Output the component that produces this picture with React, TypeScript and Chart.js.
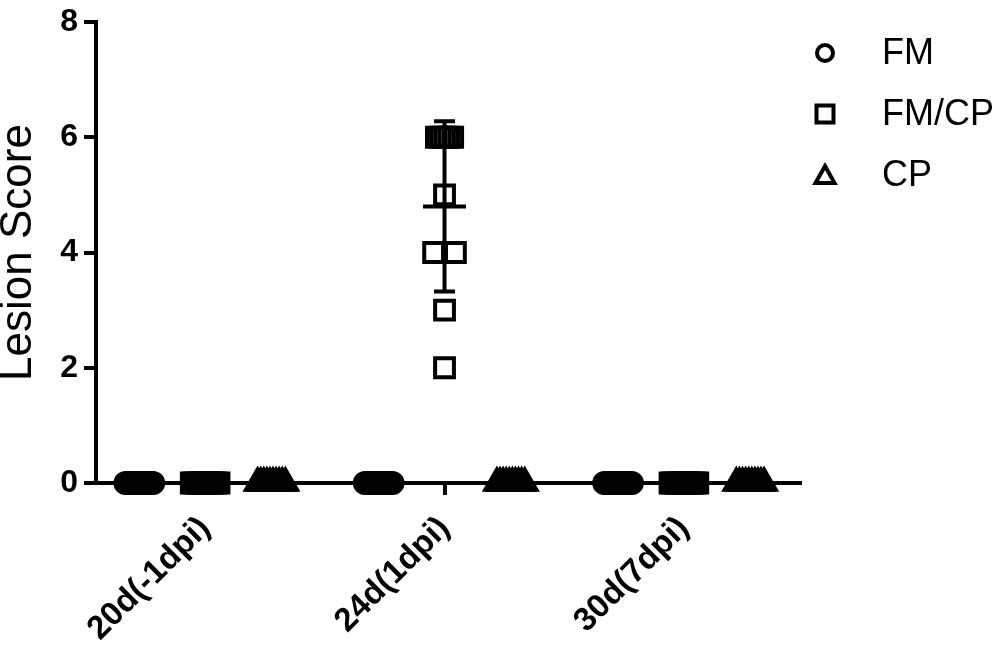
import React, { useEffect, useRef } from "react";
import { Chart, registerables } from "chart.js";

Chart.register(...registerables);

// ---- Data ----
const CATEGORIES = ["20d(-1dpi)", "24d(1dpi)", "30d(7dpi)"];
const SERIES_NAMES = ["FM", "FM/CP", "CP"];
const FM_VALUES = [
  [0, 0, 0, 0, 0, 0, 0, 0, 0, 0],
  [0, 0, 0, 0, 0, 0, 0, 0, 0, 0],
  [0, 0, 0, 0, 0, 0, 0, 0, 0, 0],
];
const FMCP_VALUES = [
  [0, 0, 0, 0, 0, 0, 0, 0, 0, 0],
  [2, 3, 4, 4, 5, 6, 6, 6, 6, 6],
  [0, 0, 0, 0, 0, 0, 0, 0, 0, 0],
];
const CP_VALUES = [
  [0, 0, 0, 0, 0, 0, 0, 0, 0, 0],
  [0, 0, 0, 0, 0, 0, 0, 0, 0, 0],
  [0, 0, 0, 0, 0, 0, 0, 0, 0, 0],
];
const Y_TICKS = [0, 2, 4, 6, 8];
const GROUP_OFFSETS = [-0.275, 0, 0.277];
const POINT_STYLES = ["circle", "rect", "triangle"];
const POINT_RADII = [10, 13.3, 13.5];

const FONT = "'Liberation Sans', Arial, Helvetica, sans-serif";

// horizontal spread of tied values (scatter-dot-plot style)
function tieSpread(k: number): number {
  if (k <= 1) return 0;
  if (k === 2) return 0.091;
  if (k <= 5) return 0.068;
  return 0.116;
}

function spreadPoints(groupIndex: number, offset: number, values: number[]) {
  const counts: Record<string, number> = {};
  values.forEach((v) => (counts[v] = (counts[v] || 0) + 1));
  const seen: Record<string, number> = {};
  return values.map((v) => {
    const k = counts[v];
    const i = seen[v] || 0;
    seen[v] = i + 1;
    const total = tieSpread(k);
    const dx = k > 1 ? -total / 2 + (total * i) / (k - 1) : 0;
    return { x: groupIndex + offset + dx, y: v };
  });
}

function stats(values: number[]) {
  const n = values.length;
  const mean = values.reduce((a, b) => a + b, 0) / n;
  const sd = n > 1 ? Math.sqrt(values.reduce((a, b) => a + (b - mean) ** 2, 0) / (n - 1)) : 0;
  return { mean, sd };
}

const ALL_SERIES = [FM_VALUES, FMCP_VALUES, CP_VALUES];

const errorBarPlugin = {
  id: "errorBars",
  afterDatasetsDraw(chart: any) {
    const { ctx } = chart;
    const xs = chart.scales.x;
    const ys = chart.scales.y;
    ctx.save();
    ctx.strokeStyle = "#000";
    ctx.lineWidth = 4;
    ctx.lineCap = "butt";
    ALL_SERIES.forEach((series, si) => {
      series.forEach((vals, gi) => {
        const { mean, sd } = stats(vals);
        const cx = xs.getPixelForValue(gi + GROUP_OFFSETS[si]);
        const yMean = ys.getPixelForValue(mean);
        const yTop = ys.getPixelForValue(mean + sd);
        const yBot = ys.getPixelForValue(mean - sd);
        ctx.beginPath();
        ctx.moveTo(cx - 21.5, yMean);
        ctx.lineTo(cx + 21.5, yMean);
        if (sd > 0) {
          ctx.moveTo(cx, yTop);
          ctx.lineTo(cx, yBot);
          ctx.moveTo(cx - 10.5, yTop);
          ctx.lineTo(cx + 10.5, yTop);
          ctx.moveTo(cx - 10.5, yBot);
          ctx.lineTo(cx + 10.5, yBot);
        }
        ctx.stroke();
      });
    });
    ctx.restore();
  },
};

const legendPlugin = {
  id: "customLegend",
  afterDraw(chart: any) {
    const { ctx } = chart;
    const x0 = chart.chartArea.right + 25;
    const ys = [53, 114, 175];
    ctx.save();
    ctx.strokeStyle = "#000";
    ctx.fillStyle = "#000";
    ctx.lineWidth = 4;
    SERIES_NAMES.forEach((name, i) => {
      const y = ys[i];
      ctx.beginPath();
      if (i === 0) {
        ctx.arc(x0, y, 8, 0, Math.PI * 2);
      } else if (i === 1) {
        ctx.rect(x0 - 8.5, y - 8.5, 17, 17);
      } else {
        ctx.moveTo(x0, y - 9);
        ctx.lineTo(x0 + 9.5, y + 8);
        ctx.lineTo(x0 - 9.5, y + 8);
        ctx.closePath();
      }
      ctx.stroke();
      ctx.font = `36px ${FONT}`;
      ctx.textAlign = "left";
      ctx.textBaseline = "middle";
      ctx.fillText(name, x0 + 57, y + 1);
    });
    ctx.restore();
  },
};

export default function App() {
  const canvasRef = useRef<HTMLCanvasElement | null>(null);

  useEffect(() => {
    document.body.style.margin = "0";
    const canvas = canvasRef.current;
    if (!canvas) return;

    const datasets = ALL_SERIES.map((series, si) => ({
      label: SERIES_NAMES[si],
      data: series.flatMap((vals, gi) => spreadPoints(gi, GROUP_OFFSETS[si], vals)),
      pointStyle: POINT_STYLES[si],
      pointRadius: POINT_RADII[si],
      pointBorderWidth: 4,
      borderColor: "#000",
      pointBorderColor: "#000",
      pointBackgroundColor: "rgba(255,255,255,0)",
      backgroundColor: "rgba(255,255,255,0)",
      showLine: false,
      clip: false as any,
    }));

    const chart = new Chart(canvas, {
      type: "scatter",
      data: { datasets: datasets as any },
      options: {
        responsive: false,
        animation: false,
        layout: { padding: { top: 18, right: 200, left: 0, bottom: 0 } },
        plugins: { legend: { display: false }, tooltip: { enabled: false } },
        scales: {
          x: {
            type: "linear",
            min: -0.456,
            max: 2.485,
            afterBuildTicks: (s: any) => {
              s.ticks = CATEGORIES.map((_, i) => ({ value: i }));
            },
            afterFit: (s: any) => {
              s.height = 169;
            },
            ticks: {
              callback: (v: any) => CATEGORIES[Math.round(Number(v))] ?? "",
              minRotation: 45,
              maxRotation: 45,
              autoSkip: false,
              color: "#000",
              padding: 14,
              font: { family: FONT, size: 33, weight: "bold" },
            },
            grid: { drawOnChartArea: false, drawTicks: true, tickLength: 12, color: "#000", lineWidth: 4 },
            border: { color: "#000", width: 4 },
          },
          y: {
            min: 0,
            max: 8,
            afterBuildTicks: (s: any) => {
              s.ticks = Y_TICKS.map((v) => ({ value: v }));
            },
            afterFit: (s: any) => {
              s.width = 96;
            },
            ticks: {
              color: "#000",
              padding: 6,
              font: { family: FONT, size: 32, weight: "bold", lineHeight: 1 },
            },
            grid: { drawOnChartArea: false, drawTicks: true, tickLength: 12, color: "#000", lineWidth: 4 },
            border: { color: "#000", width: 4 },
            title: {
              display: true,
              text: "Lesion Score",
              color: "#000",
              font: { family: FONT, size: 44, lineHeight: 1 },
              padding: { top: -3, bottom: 0 },
            },
          },
        },
      },
      plugins: [errorBarPlugin, legendPlugin],
    });

    return () => chart.destroy();
  }, []);

  return (
    <div style={{ width: 1000, height: 652, background: "#fff" }}>
      <canvas ref={canvasRef} width={1000} height={652} style={{ display: "block" }} />
    </div>
  );
}
